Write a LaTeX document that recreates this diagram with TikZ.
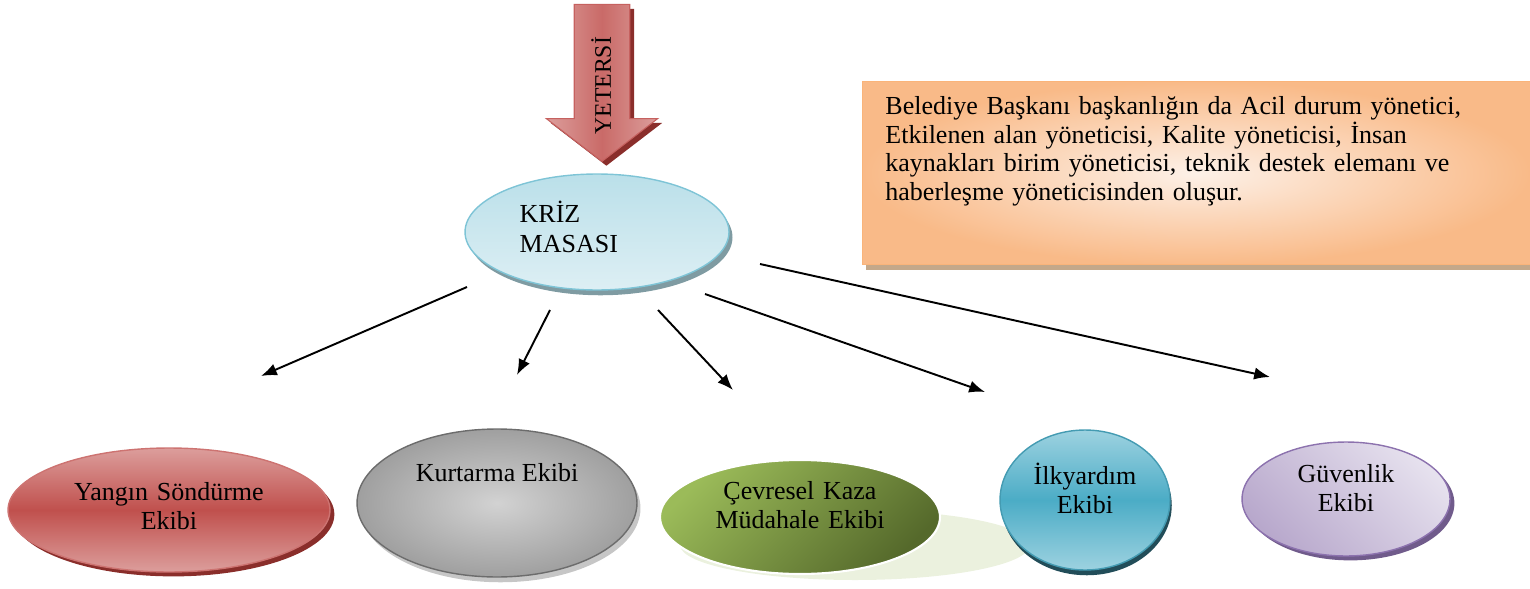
\documentclass[tikz,border=0pt]{standalone}
\usepackage{fontspec}
\setmainfont{Liberation Serif}
\usetikzlibrary{shapes.geometric,shapes.arrows,shadows,arrows.meta}

\definecolor{kirmizi}{HTML}{C0504D}
\definecolor{acikkirmizi}{HTML}{DC9E9C}
\definecolor{koyukirmizi}{HTML}{8A2E2B}
\definecolor{mavi}{HTML}{4BACC6}
\definecolor{acikmavi}{HTML}{9DD2E0}
\definecolor{buz}{HTML}{DDEFF4}
\definecolor{buzkenar}{HTML}{7EC4D6}
\definecolor{yesil}{HTML}{9BBB59}
\definecolor{koyuyesil}{HTML}{55692B}
\definecolor{soluk}{HTML}{EBF1DE}
\definecolor{lila}{HTML}{E6E1EE}
\definecolor{koyulila}{HTML}{B8A8CC}
\definecolor{mor}{HTML}{8C72AE}
\definecolor{turuncu}{HTML}{F9BA88}
\definecolor{krem}{HTML}{FDF1E8}
\definecolor{kahve}{HTML}{C4A88A}

\begin{document}
\begin{tikzpicture}[x=0.02cm, y=-0.02cm,
    yazi/.style={font=\fontsize{14.8}{17}\selectfont},
    ekip/.style={ellipse, yazi, align=center, inner sep=0pt, text height=11pt},
    ok/.style={->, line width=1.1pt},
    >={Latex[length=9pt,width=7pt]}]
  \useasboundingbox (0,0) rectangle (1530,588);

  % ust ok
  \node (yetersi) [single arrow, rotate=90, shape border rotate=180, anchor=tip,
    single arrow head extend=15.9pt, single arrow tip angle=105,
    minimum height=3.14cm, inner xsep=4pt, inner ysep=10.5pt,
    text height=10pt, text depth=0pt,
    draw=kirmizi!90!white, line width=0.6pt,
    left color=acikkirmizi, right color=acikkirmizi, middle color=kirmizi!85!white,
    general shadow={fill=koyukirmizi, shadow xshift=2.5pt, shadow yshift=-2.5pt},
    font=\fontsize{13.5}{15}\selectfont] at (602,162) {\makebox[40pt][r]{YETERSİ}};

  % kriz masasi
  \node (kriz) [ekip, align=left, text width=88pt, text depth=21.5pt,
    minimum width=5.28cm, minimum height=2.32cm,
    draw=buzkenar, line width=0.8pt, top color=acikmavi!70!white, bottom color=buz,
    general shadow={fill=gray!60!buzkenar, shadow xshift=2pt, shadow yshift=-3pt}]
    at (597,232) {KRİZ\\MASASI};

  % aciklama kutusu
  \node (kutu) [anchor=north west, font=\fontsize{14.8}{16.4}\selectfont,
    align=left, text width=354pt,
    minimum width=13.36cm, inner xsep=12pt, inner ysep=8pt,
    text height=10.7pt, text depth=77.6pt,
    draw=turuncu!90!orange, line width=0.5pt,
    inner color=krem, outer color=turuncu,
    general shadow={fill=kahve, shadow xshift=2pt, shadow yshift=-3pt}]
    at (862,81) {Belediye Başkanı başkanlığın da Acil durum yönetici,\\
      Etkilenen alan yöneticisi, Kalite yöneticisi, İnsan\\
      kaynakları birim yöneticisi, teknik destek elemanı ve\\
      haberleşme yöneticisinden oluşur.};

  % ekipler
  \fill[soluk] (855,545) ellipse [x radius=175, y radius=35];
  \node (yangin) [ekip, text width=120pt, text depth=22.3pt,
    minimum width=6.44cm, minimum height=2.48cm,
    draw=kirmizi!80!white, line width=0.8pt,
    top color=acikkirmizi, bottom color=acikkirmizi, middle color=kirmizi,
    general shadow={fill=koyukirmizi, shadow xshift=2.5pt, shadow yshift=-2.5pt}]
    at (169,510) {Yangın Söndürme\\Ekibi};
  \node (kurtarma) [ekip, text height=10pt, text depth=34pt,
    minimum width=5.6cm, minimum height=2.96cm,
    draw=gray!85!black, line width=0.8pt,
    inner color=gray!35, outer color=gray!75,
    general shadow={fill=gray!45, shadow xshift=2pt, shadow yshift=-3pt}]
    at (497,503) {Kurtarma Ekibi};
  \node (cevre) [ekip, text width=100pt, text depth=31.4pt,
    minimum width=5.6cm, minimum height=2.28cm,
    draw=white, line width=1.2pt,
    left color=yesil, right color=koyuyesil, shading angle=45]
    at (800,517) {Çevresel Kaza\\Müdahale Ekibi};
  \node (ilk) [ekip, text width=60pt, text depth=29.1pt,
    minimum width=3.4cm, minimum height=2.8cm,
    draw=mavi!90!black, line width=0.8pt,
    top color=acikmavi, bottom color=acikmavi, middle color=mavi,
    general shadow={fill=mavi!45!black, shadow xshift=1pt, shadow yshift=-3pt}]
    at (1085,500) {İlkyardım\\Ekibi};
  \node (guven) [ekip, text width=60pt, text depth=30.3pt,
    minimum width=4.16cm, minimum height=2.28cm,
    draw=mor, line width=0.8pt,
    left color=koyulila, right color=lila, shading angle=135,
    general shadow={fill=mor!80!black, shadow xshift=2.5pt, shadow yshift=-2.5pt}]
    at (1346,499) {Güvenlik\\Ekibi};

  % oklar
  \coordinate (o1) at (467,287);
  \coordinate (o2) at (550,310);
  \coordinate (o3) at (658,310);
  \coordinate (o4) at (705,294);
  \coordinate (o5) at (760,264);
  \coordinate (u1) at (261,376);
  \coordinate (u2) at (517,375);
  \coordinate (u3) at (733,390);
  \coordinate (u4) at (985,392);
  \coordinate (u5) at (1270,377);
  \draw [ok] (o1) to (u1);
  \draw [ok] (o2) to (u2);
  \draw [ok] (o3) to (u3);
  \draw [ok] (o4) to (u4);
  \draw [ok] (o5) to (u5);
\end{tikzpicture}
\end{document}
